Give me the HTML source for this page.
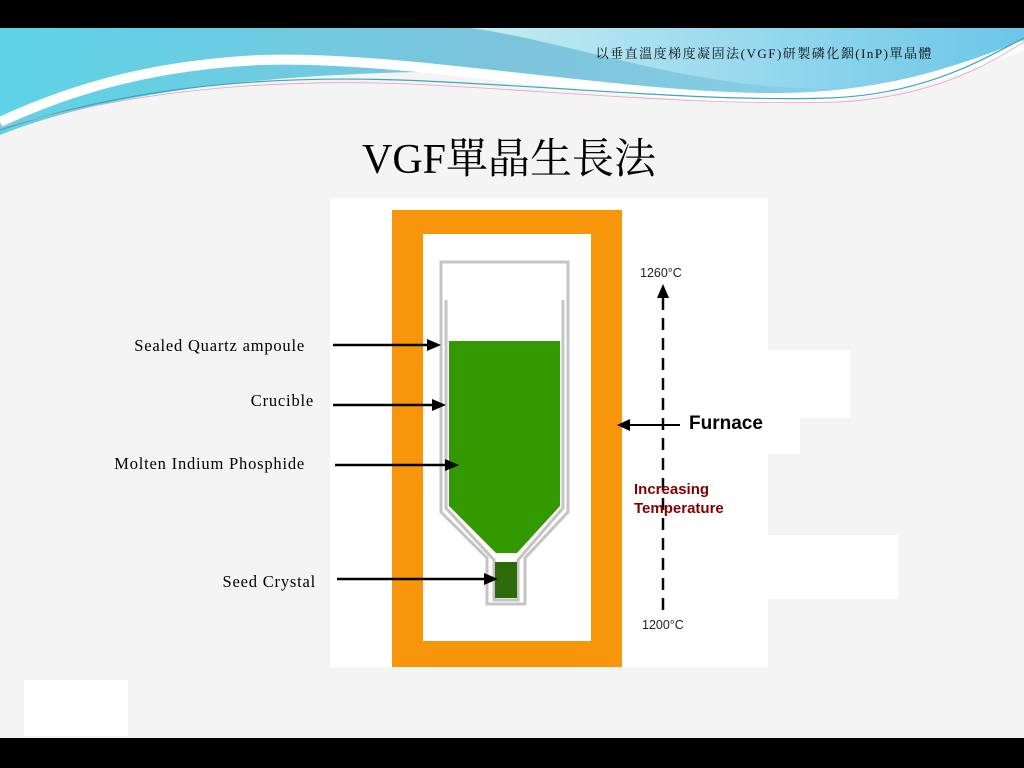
<!DOCTYPE html>
<html><head><meta charset="utf-8"><style>
html,body{margin:0;padding:0;width:1024px;height:768px;overflow:hidden;background:#f4f4f4}
svg{display:block}
</style></head><body>
<svg width="1024" height="768" viewBox="0 0 1024 768" xmlns="http://www.w3.org/2000/svg">
<defs>
<linearGradient id="g1" x1="0" y1="0" x2="1" y2="0">
<stop offset="0" stop-color="#5fd3e6"/><stop offset="0.5" stop-color="#7cc4dc"/><stop offset="1" stop-color="#8fd7ea"/>
</linearGradient>
<linearGradient id="g2" x1="0" y1="0" x2="1" y2="0">
<stop offset="0" stop-color="#c4ecf2"/><stop offset="1" stop-color="#6cc6e8"/>
</linearGradient>
</defs>
<rect x="0" y="0" width="1024" height="768" fill="#f4f4f4"/>
<path d="M0 28 H1024 V40 C960 70 900 95 820 100 C700 105 560 70 420 72 C250 75 100 95 0 135 Z" fill="url(#g1)"/>
<path d="M470 28 H1024 V40 C980 70 900 92 800 88 C680 84 560 40 470 28 Z" fill="url(#g2)"/>
<path d="M0 122 C80 85 160 65 260 60 C400 55 600 95 760 98 C860 100 940 80 1024 45" fill="none" stroke="#ffffff" stroke-width="10"/>
<path d="M0 130 C120 90 250 75 400 80 C560 86 700 102 830 98 C930 94 990 55 1024 38" fill="none" stroke="#3aa8b8" stroke-width="1.2"/>
<path d="M0 128 C130 92 260 78 410 84 C570 92 700 106 840 102 C940 96 995 60 1024 42" fill="none" stroke="#e8a0c0" stroke-width="0.8"/>
<rect x="0" y="0" width="1024" height="28" fill="#000"/>
<rect x="0" y="738" width="1024" height="30" fill="#000"/>
<text x="933" y="58" text-anchor="end" font-family="'Liberation Serif','Noto Serif CJK SC',serif" font-size="13" letter-spacing="1.5" fill="#111">以垂直溫度梯度凝固法(VGF)研製磷化銦(InP)單晶體</text>
<text x="509" y="173" text-anchor="middle" font-family="'Liberation Serif','Noto Serif CJK SC',serif" font-size="42" fill="#000">VGF單晶生長法</text>
<rect x="330" y="198" width="438" height="469" fill="#fff"/>
<rect x="768" y="350" width="82" height="68" fill="#fff"/>
<rect x="768" y="418" width="32" height="36" fill="#fff"/>
<rect x="768" y="535" width="130" height="64" fill="#fff"/>
<rect x="24" y="680" width="104" height="56" fill="#fff"/>
<rect x="392" y="210" width="230" height="457" fill="#f7960a"/>
<rect x="423" y="234" width="168" height="407" fill="#fff"/>
<path d="M441 262 H568 V512 L525 558 V604 H487 V558 L441 512 Z" fill="#fff" stroke="#c4c4c4" stroke-width="3"/>
<path d="M446 300 V508 L494 560 V600 H518 V560 L563 508 V300" fill="none" stroke="#c4c4c4" stroke-width="3"/>
<path d="M449 341 H560 V506 L517 553 H496 L449 506 Z" fill="#339900"/>
<rect x="495" y="562" width="22" height="36" fill="#2d6a0a"/>
<g stroke="#000" stroke-width="2.5">
<line x1="333" y1="345" x2="428" y2="345"/>
<line x1="333" y1="405" x2="434" y2="405"/>
<line x1="335" y1="465" x2="446" y2="465"/>
<line x1="337" y1="579" x2="486" y2="579"/>
<line x1="680" y1="425" x2="628" y2="425" stroke-width="2"/>
</g>
<g fill="#000">
<polygon points="441,345 427,339 427,351"/>
<polygon points="446,405 432,399 432,411"/>
<polygon points="459,465 445,459 445,471"/>
<polygon points="498,579 484,573 484,585"/>
<polygon points="617,425 630,419 630,431"/>
<polygon points="663,284 657,298 669,298"/>
</g>
<line x1="663" y1="298" x2="663" y2="616" stroke="#000" stroke-width="2.5" stroke-dasharray="12,8"/>
<g font-family="'Liberation Serif',serif" font-size="16.5" letter-spacing="0.8" fill="#000" text-anchor="end">
<text x="305" y="351">Sealed Quartz ampoule</text>
<text x="314" y="406">Crucible</text>
<text x="305" y="469">Molten Indium Phosphide</text>
<text x="316" y="587">Seed Crystal</text>
</g>
<g font-family="'Liberation Sans',sans-serif">
<text x="640" y="277" font-size="12.5" fill="#222">1260°C</text>
<text x="642" y="629" font-size="12.5" fill="#222">1200°C</text>
<text x="689" y="429" font-size="19" font-weight="bold" fill="#000">Furnace</text>
<text x="634" y="494" font-size="15" font-weight="bold" fill="#800000">Increasing</text>
<text x="634" y="513" font-size="15" font-weight="bold" fill="#800000">Temperature</text>
</g>
</svg>
</body></html>
